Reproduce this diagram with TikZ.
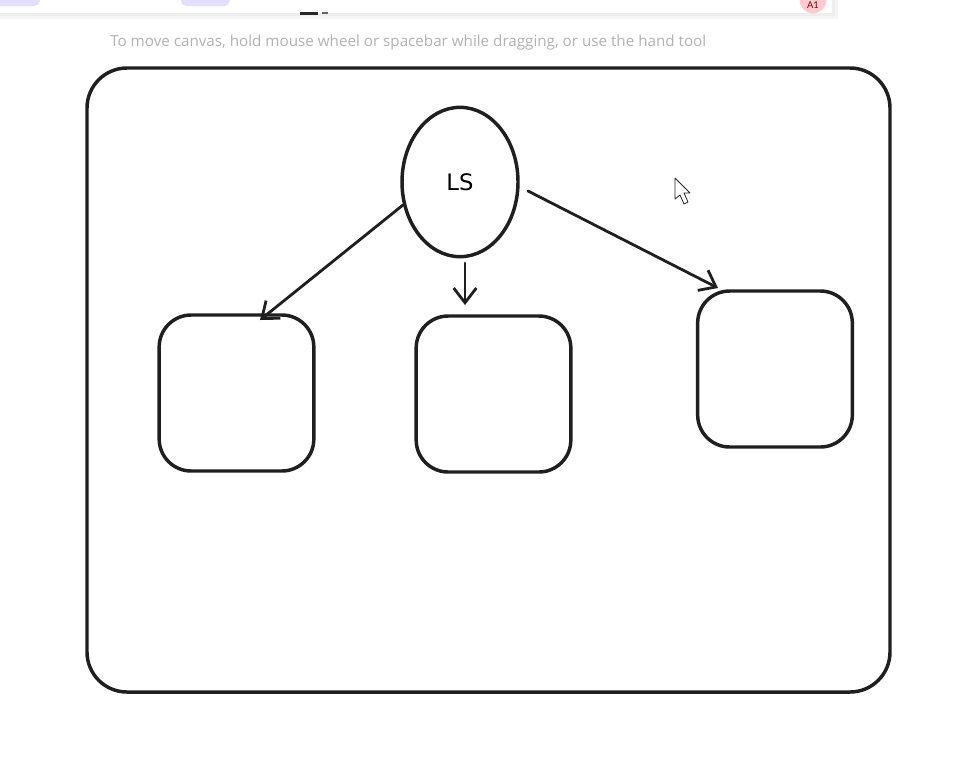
\documentclass[tikz,border=0pt]{standalone}
\usepackage{fontspec}
\setmainfont{Lato}
\newfontfamily\hintfont{Open Sans}
\newfontfamily\handfont{DejaVu Sans}
\usetikzlibrary{shapes.geometric,arrows.meta}
\definecolor{lav}{HTML}{E3E0FF}
\definecolor{badgepink}{HTML}{FFC9D0}
\begin{document}
\begin{tikzpicture}[x=0.75pt,y=-0.75pt,
  ink/.style={draw=black!88,line width=2.6pt,line cap=round,line join=round},
  card/.style={ink,rounded corners=24pt},
  conn/.style={ink,line width=2.1pt,-{Straight Barb[length=11pt,width=17pt,line width=2.1pt]}},
  hint/.style={text=black!30,font=\hintfont\fontsize{11.4}{13}\selectfont,inner sep=0pt}
]
\useasboundingbox (0,0) rectangle (980,779);
\fill[white] (0,0) rectangle (980,779);
% toolbar fragment
\fill[black!4] (0,0) rectangle (838,19);
\fill[black!7] (0,0) rectangle (835,16);
\fill[white] (0,0) rectangle (832,13);
\fill[lav,rounded corners=4pt] (-6,-8) rectangle (40,6);
\fill[lav,rounded corners=4pt] (181,-8) rectangle (230,6);
\node[circle,fill=badgepink,minimum size=20pt,inner sep=0pt] (badge) at (813,0) {};
\node[text=red!45!black,font=\fontsize{7}{8}\selectfont,inner sep=0pt] (badgetext) at (813,5) {A1};
\fill[black!85] (300,12) rectangle (318,15);
\fill[black!60] (322,12) rectangle (328,14);
% hint text
\node[hint,anchor=west] (hinttext) at (110,43) {To move canvas, hold mouse wheel or spacebar while dragging, or use the hand tool};
% outer frame
\draw[ink,rounded corners=30pt] (87,68) rectangle (890,692);
% ellipse
\node[ink,ellipse,minimum width=87pt,minimum height=112pt,inner sep=0pt] (ls) at (460,182) {};
\node[font=\handfont\fontsize{17}{19}\selectfont] (lstext) at (460,182) {LS};
% boxes
\node[card,minimum width=116pt,minimum height=117pt,inner sep=0pt] (b1) at (236.5,393) {};
\node[card,minimum width=116pt,minimum height=117pt,inner sep=0pt] (b2) at (493.5,394) {};
\node[card,minimum width=116pt,minimum height=117pt,inner sep=0pt] (b3) at (775,369) {};
% connectors
\coordinate (s1) at (403,205);
\coordinate (e1) at (260,320);
\coordinate (s2) at (465,263);
\coordinate (e2) at (465,305);
\coordinate (s3) at (528,191);
\coordinate (e3) at (718,288);
\draw[conn] (s1) -- (e1);
\draw[conn] (s2) -- (e2);
\draw[conn] (s3) -- (e3);
% mouse cursor
\draw[black!85,fill=white,line width=0.6pt,line join=round] (675,178) -- (675,199) -- (680,195) -- (684,204) -- (688,202) -- (684,193) -- (690,193) -- cycle;
\end{tikzpicture}
\end{document}
